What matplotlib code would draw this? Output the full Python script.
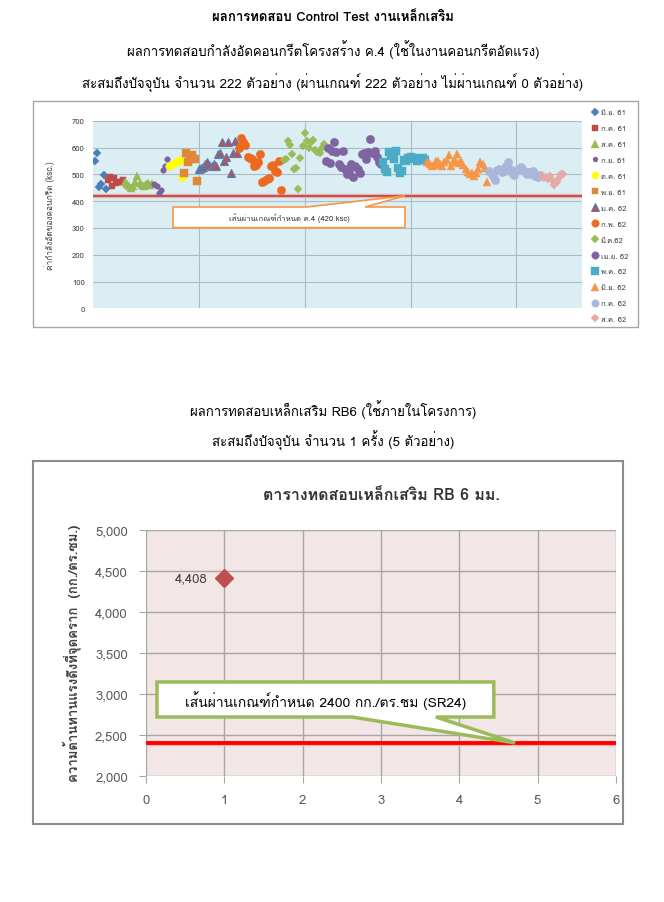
import matplotlib
matplotlib.use('Agg')
import matplotlib.pyplot as plt
from matplotlib import font_manager
from matplotlib.ft2font import FT2Font
from matplotlib.patches import Polygon, Rectangle
import numpy as np

# หาฟอนต์ที่มีอักษรไทย
thai_fonts = []
for f in font_manager.fontManager.ttflist:
    try:
        cm = FT2Font(f.fname).get_charmap()
    except Exception:
        continue
    if 0x0E01 in cm and f.name not in thai_fonts:
        thai_fonts.append(f.name)
plt.rcParams['font.family'] = thai_fonts[:1] + ['DejaVu Sans']

# ---- ข้อมูลกราฟที่ 1 : กำลังอัดคอนกรีต ----
months = ['มิ.ย. 61', 'ก.ค. 61', 'ส.ค. 61', 'ก.ย. 61', 'ต.ค. 61', 'พ.ย. 61',
          'ม.ค. 62', 'ก.พ. 62', 'มี.ค.62', 'เม.ย. 62', 'พ.ค. 62', 'มิ.ย. 62',
          'ก.ค. 62', 'ส.ค. 62']
jun61 = [548, 578, 454, 462, 497, 444]
jul61 = [480, 490, 458, 487, 468, 470, 472, 478]
aug61 = [470, 462, 455, 450, 458, 472, 495, 466, 460, 458, 462, 468, 460, 465]
sep61 = [462, 455, 432, 443, 515, 530, 558]
oct61 = [530, 535, 540, 545, 548, 552, 490]
nov61 = [504, 578, 547, 557, 573, 557, 474]
jan62 = [520, 525, 528, 540, 545, 535, 530, 540, 532, 575, 580, 620, 550,
         565, 622, 505, 578, 625, 578]
feb62 = [600, 635, 622, 608, 565, 560, 558, 532, 535, 545, 575, 470, 475,
         482, 485, 530, 535, 512, 510, 548, 440]
mar62 = [555, 558, 625, 610, 575, 518, 522, 445, 560, 605, 655, 625, 598,
         620, 628, 592, 585, 578, 600, 612]
apr62 = [551, 598, 541, 586, 619, 582, 538, 528, 586, 520, 501, 513, 538,
         489, 530, 520, 504, 576, 579, 556, 582, 632, 579, 588, 563, 545, 538]
may62 = [545, 520, 510, 582, 570, 558, 588, 522, 505, 512, 552, 548, 560,
         565, 556, 562, 548, 555, 552, 560, 553]
jun62 = [545, 540, 532, 536, 548, 550, 540, 530, 546, 555, 572, 532, 546,
         552, 575, 542, 548, 535, 520, 510, 500, 505, 495, 505, 520, 545,
         540, 525, 472]
jul62 = [512, 505, 495, 480, 515, 520, 510, 512, 530, 545, 520, 505, 498,
         512, 520, 528, 515, 510, 500, 508, 500, 512, 495, 490, 498]
aug62 = [495, 488, 490, 482, 495, 480, 460, 470, 488, 500, 502]
series1 = [jun61, jul61, aug61, sep61, oct61, nov61, jan62, feb62, mar62,
           apr62, may62, jun62, jul62, aug62]
limit1 = 420
limit1_text = 'เส้นผ่านเกณฑ์กำหนด ค.4 (420 ksc)'

# ---- ข้อมูลกราฟที่ 2 : เหล็กเสริม RB6 ----
rb_x = [1]
rb_y = [4408]
limit2 = 2400
limit2_text = 'เส้นผ่านเกณฑ์กำหนด 2400 กก./ตร.ชม (SR24)'

# สไตล์ของแต่ละเดือน (marker, สี, ขนาด, สีขอบ)
styles = [('D', '#4A7EBB', 4.5, None), ('s', '#BE4B48', 5, None),
          ('^', '#98B954', 6, None), ('o', '#7D60A0', 4, None),
          ('o', '#FFFF00', 5.5, None), ('s', '#E0883A', 5.5, None),
          ('^', '#C0504D', 6, '#4F81BD'), ('o', '#EB6A1F', 6, None),
          ('D', '#9BBB59', 4.5, None), ('o', '#8064A2', 6, None),
          ('s', '#4BACC6', 6, None), ('^', '#F79646', 6, None),
          ('o', '#A9B8DA', 6, None), ('D', '#E6A9A8', 4.5, None)]

W, H = 664, 903
fig = plt.figure(figsize=(W / 100, H / 100), dpi=100)


def px_axes(x0, y0, x1, y1):
    return fig.add_axes([x0 / W, 1 - y1 / H, (x1 - x0) / W, (y1 - y0) / H])


def callout(ax, x0, x1, y0, y1, b1, b2, tip, ec, lw):
    # ชี้ขึ้นหรือลง ขึ้นกับตำแหน่งปลายลูกศร
    if tip[1] > y1:
        pts = [(x0, y0), (x0, y1), (b1, y1), tip, (b2, y1), (x1, y1), (x1, y0)]
    else:
        pts = [(x0, y1), (x0, y0), (b1, y0), tip, (b2, y0), (x1, y0), (x1, y1)]
    ax.add_patch(Polygon(pts, closed=True, facecolor='white', edgecolor=ec,
                         lw=lw, zorder=6, joinstyle='miter'))


# กรอบทั้งหน้า (overlay)
over = fig.add_axes([0, 0, 1, 1])
over.set_xlim(0, W)
over.set_ylim(H, 0)
over.axis('off')
over.add_patch(Rectangle((33, 102), 605, 226, fill=False, ec='#A6A6A6', lw=1))
over.add_patch(Rectangle((33, 462), 590, 363, fill=False, ec='#8C8C8C', lw=1.5))

fig.text(333 / W, 1 - 18 / H, 'ผลการทดสอบ Control Test งานเหล็กเสริม',
         ha='center', va='center', fontsize=9.5, fontweight='bold')
fig.text(333 / W, 1 - 50 / H,
         'ผลการทดสอบกำลังอัดคอนกรีตโครงสร้าง ค.4 (ใช้ในงานคอนกรีตอัดแรง)',
         ha='center', va='center', fontsize=9.5)
fig.text(333 / W, 1 - 83 / H,
         'สะสมถึงปัจจุบัน จำนวน 222 ตัวอย่าง (ผ่านเกณฑ์ 222 ตัวอย่าง ไม่ผ่านเกณฑ์ 0 ตัวอย่าง)',
         ha='center', va='center', fontsize=9.5)
fig.text(333 / W, 1 - 410 / H, 'ผลการทดสอบเหล็กเสริม RB6 (ใช้ภายในโครงการ)',
         ha='center', va='center', fontsize=9.5)
fig.text(333 / W, 1 - 441 / H, 'สะสมถึงปัจจุบัน จำนวน 1 ครั้ง (5 ตัวอย่าง)',
         ha='center', va='center', fontsize=9.5)

# ---- กราฟที่ 1 ----
ax1 = px_axes(93, 121.7, 582, 309.3)
ax1.set_facecolor('#DAEEF3')
ax1.set_xlim(0, 231)
ax1.set_ylim(0, 700)
ax1.set_yticks(range(0, 701, 100))
ax1.set_xticks([50, 100, 150, 200])
ax1.set_xticklabels([])
ax1.grid(True, color='#A9BCC8', lw=0.8)
ax1.set_axisbelow(True)
ax1.tick_params(length=0, labelsize=5.5, labelcolor='#404040', pad=6)
for s in ax1.spines.values():
    s.set_visible(False)
ax1.set_ylabel('ค่ากำลังอัดของคอนกรีต (ksc.)', fontsize=6, color='#404040',
               labelpad=12)

start = 1
for name, vals, (mk, col, ms, ec) in zip(months, series1, styles):
    xs = np.arange(start, start + len(vals))
    start += len(vals)
    ax1.plot(xs, vals, ls='none', marker=mk, color=col, ms=ms,
             mec=ec if ec else col, mew=0.8 if ec else 0.3, label=name,
             zorder=4)

ax1.axhline(limit1, color='#E8B4B3', lw=3.2, zorder=3)
ax1.axhline(limit1, color='#C0504D', lw=1.4, zorder=3)
callout(ax1, 37.8, 147.4, 301, 378, 101, 128.5, (147.4, limit1),
        '#F79646', 1.2)
ax1.text((37.8 + 147.4) / 2, 339.5, limit1_text, ha='center', va='center',
         fontsize=5.5, color='#333333', zorder=7)

leg = ax1.legend(loc='upper left', bbox_to_anchor=(590 / W, 1 - 107 / H),
                 bbox_transform=fig.transFigure, frameon=False, fontsize=5.5,
                 labelspacing=1.12, handlelength=0.6, handletextpad=0.4,
                 borderaxespad=0, markerscale=0.9)
for t in leg.get_texts():
    t.set_color('#404040')

# ---- กราฟที่ 2 ----
ax2 = px_axes(146, 530.7, 616, 776.7)
ax2.set_facecolor('#F2E6E6')
ax2.set_xlim(0, 6)
ax2.set_ylim(2000, 5000)
ax2.set_xticks(range(0, 7))
ax2.set_yticks(range(2000, 5001, 500))
ax2.set_yticklabels([f'{v:,}' for v in range(2000, 5001, 500)])
ax2.grid(True, color='#A6A6A6', lw=1)
ax2.set_axisbelow(True)
for s in ax2.spines.values():
    s.set_visible(False)
ax2.tick_params(length=5, color='#A6A6A6', labelsize=9.5,
                labelcolor='#595959', pad=8)
ax2.set_ylabel('ความต้านทานแรงดึงที่จุดคราก  (กก./ตร.ซม.)', fontsize=9.5,
               fontweight='bold', color='#404040', labelpad=10)
ax2.set_title('ตารางทดสอบเหล็กเสริม RB 6 มม.', fontsize=11.5,
              fontweight='bold', color='#333333', pad=22)

ax2.axhline(limit2, color='#FFB0B0', lw=3.8, zorder=3)
ax2.axhline(limit2, color='#FF0000', lw=2.8, zorder=3)
ax2.plot(rb_x, rb_y, ls='none', marker='D', color='#C0504D', ms=9, zorder=5,
         clip_on=False)
for x, y in zip(rb_x, rb_y):
    ax2.annotate(f'{y:,}', (x, y), xytext=(-12, 0), textcoords='offset points',
                 ha='right', va='center', fontsize=9.5, color='#404040')

callout(ax2, 0.14, 4.44, 2716, 3143, 2.63, 3.70, (4.71, limit2),
        '#9BBB59', 2.5)
ax2.text(2.29, 2930, limit2_text, ha='center', va='center', fontsize=10,
         color='black', zorder=7)

fig.savefig('out.png', dpi=100)
